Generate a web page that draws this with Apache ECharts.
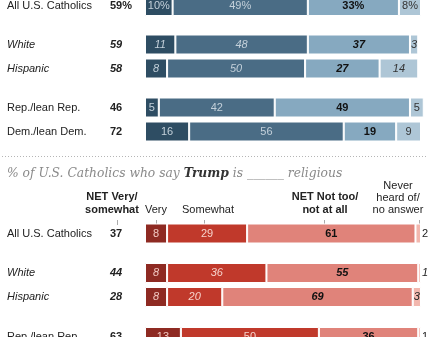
<!DOCTYPE html>
<html>
<head>
<meta charset="utf-8">
<script src="https://cdn.jsdelivr.net/npm/echarts@6/dist/echarts.min.js"></script>
<style>
  html, body { margin: 0; padding: 0; background: #fff; }
  #chart { width: 436px; height: 337px; }
</style>
</head>
<body>
<div id="chart"></div>
<script>
// Row labels shared by both panels
const rowLabels = ['All U.S. Catholics', 'White', 'Hispanic', 'Rep./lean Rep.', 'Dem./lean Dem.'];
const italicRows = ['White', 'Hispanic'];

// Upper panel: very / somewhat / not too-not at all / never heard-no answer
const upperNet      = [59, 59, 58, 46, 72];
const upperVery     = [10, 11, 8, 5, 16];
const upperSomewhat = [49, 48, 50, 42, 56];
const upperNotToo   = [33, 37, 27, 49, 19];
const upperNever    = [8, 3, 14, 5, 9];

// Lower panel: how religious Trump is
const trumpNet      = [37, 44, 28, 63];
const trumpVery     = [8, 8, 8, 13];
const trumpSomewhat = [29, 36, 20, 50];
const trumpNotToo   = [61, 55, 69, 36];
const trumpNever    = [2, 1, 3, 1];

const FONT = '"Liberation Sans", Arial, sans-serif';

const sections = [
  {
    net: upperNet,
    values: [upperVery, upperSomewhat, upperNotToo, upperNever],
    colors: ['#2e4d63', '#4a6c85', '#86a9c0', '#aec6d6'],
    labelColors: ['#c3d0da', '#c3d0da', '#111', '#333'],
    pctOnFirst: true,
    groups: [
      { rows: [0], top: -6 },
      { rows: [1, 2], top: 32.5 },
      { rows: [3, 4], top: 95.5 }
    ]
  },
  {
    net: trumpNet,
    values: [trumpVery, trumpSomewhat, trumpNotToo, trumpNever],
    colors: ['#8e2a22', '#c0392b', '#e0837a', '#f2b7ae'],
    labelColors: ['#f2c9c2', '#f6d2cb', '#111', '#222'],
    pctOnFirst: false,
    outsideSmallLast: true,
    groups: [
      { rows: [0], top: 221.5 },
      { rows: [1, 2], top: 261 },
      { rows: [3], top: 325 }
    ]
  }
];

const grid = [], xAxis = [], yAxis = [], series = [];
let k = 0;
sections.forEach(sec => {
  sec.groups.forEach(g => {
    grid.push({ left: 145, right: 15, top: g.top, height: 24 * g.rows.length, outerBoundsMode: 'none', containLabel: false });
    xAxis.push({ gridIndex: k, type: 'value', min: 0, max: 100, show: false });
    yAxis.push({
      gridIndex: k,
      type: 'category',
      inverse: true,
      data: g.rows.map(r => rowLabels[r]),
      axisLine: { show: false },
      axisTick: { show: false },
      axisLabel: {
        align: 'left',
        margin: 138,
        formatter: (v, i) => {
          const r = g.rows[i];
          const it = italicRows.includes(v);
          const net = sec.net[r] + (sec.pctOnFirst && r === 0 ? '%' : '');
          return '{' + (it ? 'ni' : 'n') + '|' + v + '}{' + (it ? 'vi' : 'v') + '|' + net + '}';
        },
        rich: {
          n:  { width: 103, fontSize: 11, color: '#222', fontFamily: FONT },
          ni: { width: 103, fontSize: 11, color: '#222', fontFamily: FONT, fontStyle: 'italic' },
          v:  { fontSize: 11, color: '#222', fontFamily: FONT, fontWeight: 'bold' },
          vi: { fontSize: 11, color: '#222', fontFamily: FONT, fontWeight: 'bold', fontStyle: 'italic' }
        }
      }
    });
    for (let j = 0; j < 4; j++) {
      series.push({
        type: 'bar',
        xAxisIndex: k,
        yAxisIndex: k,
        stack: 'row' + k,
        barWidth: 20,
        clip: false,
        silent: true,
        itemStyle: { color: sec.colors[j], borderColor: '#fff', borderWidth: 1 },
        label: {
          show: true,
          position: 'inside',
          color: sec.labelColors[j],
          fontSize: 11,
          fontFamily: FONT,
          fontWeight: j === 2 ? 'bold' : 'normal',
          formatter: p => p.value + (sec.pctOnFirst && p.dataIndex === 0 && g.rows[0] === 0 ? '%' : '')
        },
        data: g.rows.map(r => {
          const it = italicRows.includes(rowLabels[r]);
          const val = sec.values[j][r];
          const lbl = { fontStyle: it ? 'italic' : 'normal' };
          if (j === 3 && sec.outsideSmallLast && val < 3) {
            lbl.position = 'right';
            lbl.distance = 1;
          }
          return { value: val, label: lbl };
        })
      });
    }
    k++;
  });
});

// Header annotations and tick marks for the lower panel
const hdr = (x, y, text, bold) => ({
  type: 'text', x: x, y: y,
  style: { text: text, fill: '#222', font: (bold ? 'bold ' : '') + '11px ' + FONT, textAlign: 'center', textVerticalAlign: 'middle' }
});
const tick = x => ({
  type: 'line', shape: { x1: x, y1: 220, x2: x, y2: 225 },
  style: { stroke: '#aaa', lineWidth: 1 }
});

const graphic = [
  {
    type: 'line', shape: { x1: 2, y1: 156.5, x2: 427, y2: 156.5 },
    style: { stroke: '#b5b5b5', lineWidth: 1, lineDash: [1, 2] }
  },
  {
    type: 'text', x: 7, y: 174,
    style: {
      text: '{a|% of U.S. Catholics who say }{b|Trump}{a| is ______ religious}',
      textVerticalAlign: 'middle',
      rich: {
        a: { fontFamily: '"DejaVu Serif", Georgia, serif', fontStyle: 'italic', fontSize: 12.3, fill: '#8a8a8a' },
        b: { fontFamily: '"DejaVu Serif", Georgia, serif', fontStyle: 'italic', fontWeight: 'bold', fontSize: 12.3, fill: '#333' }
      }
    }
  },
  hdr(112, 197, 'NET Very/', true),
  hdr(112, 210, 'somewhat', true),
  hdr(156, 210, 'Very', false),
  hdr(208, 210, 'Somewhat', false),
  hdr(325, 197, 'NET Not too/', true),
  hdr(325, 210, 'not at all', true),
  hdr(398, 186, 'Never', false),
  hdr(398, 198, 'heard of/', false),
  hdr(398, 210, 'no answer', false),
  tick(117.5), tick(156.5), tick(204.5), tick(324.5), tick(419.5)
];

const chart = echarts.init(document.getElementById('chart'), null, { renderer: 'canvas' });
chart.setOption({
  animation: false,
  backgroundColor: '#fff',
  grid: grid,
  xAxis: xAxis,
  yAxis: yAxis,
  series: series,
  graphic: graphic
});
</script>
</body>
</html>
